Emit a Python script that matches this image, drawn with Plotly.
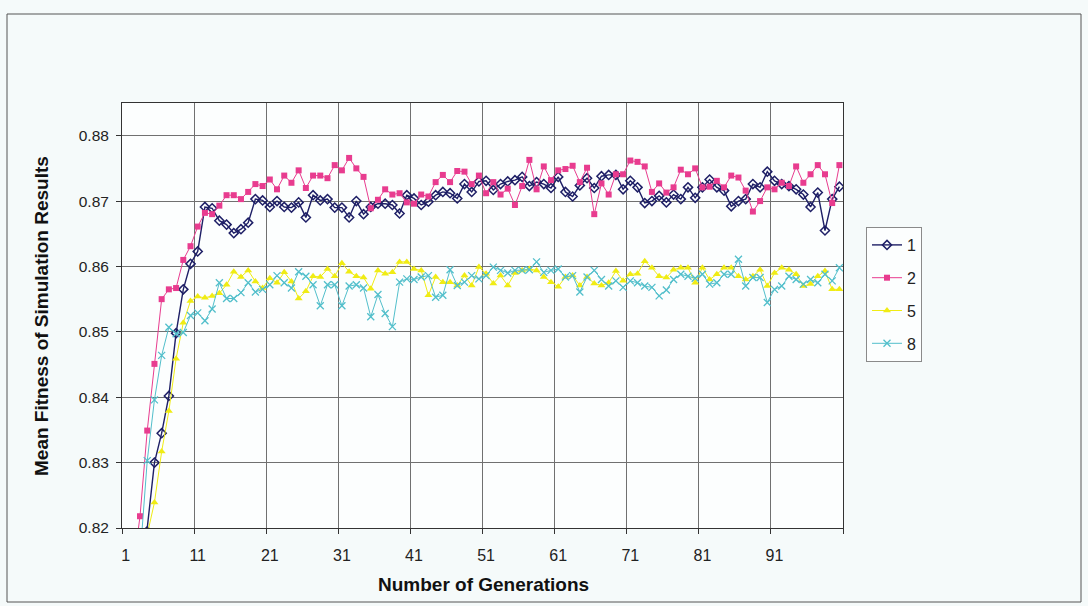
import plotly.graph_objects as go

# Generation index 1..100
generations = list(range(1, 101))

# Mean fitness per generation for each run
series_1 = [
    0.7900, 0.8000, 0.8100, 0.8195, 0.8300, 0.8345, 0.8402, 0.8498, 0.8565, 0.8604,
    0.8623, 0.8691, 0.8689, 0.8670, 0.8664, 0.8651, 0.8657, 0.8667, 0.8703, 0.8701,
    0.8691, 0.8700, 0.8691, 0.8690, 0.8698, 0.8675, 0.8709, 0.8701, 0.8703, 0.8690,
    0.8690, 0.8675, 0.8700, 0.8680, 0.8691, 0.8696, 0.8696, 0.8694, 0.8681, 0.8709,
    0.8704, 0.8694, 0.8699, 0.8709, 0.8714, 0.8712, 0.8704, 0.8726, 0.8714, 0.8730,
    0.8731, 0.8717, 0.8726, 0.8730, 0.8732, 0.8737, 0.8723, 0.8729, 0.8726, 0.8720,
    0.8737, 0.8714, 0.8707, 0.8724, 0.8735, 0.8720, 0.8738, 0.8740, 0.8740, 0.8718,
    0.8731, 0.8721, 0.8697, 0.8700, 0.8708, 0.8698, 0.8710, 0.8703, 0.8721, 0.8705,
    0.8721, 0.8733, 0.8721, 0.8716, 0.8692, 0.8700, 0.8703, 0.8726, 0.8721, 0.8745,
    0.8731, 0.8726, 0.8723, 0.8718, 0.8710, 0.8691, 0.8713, 0.8655, 0.8703, 0.8722,
]
series_2 = [
    0.8050, 0.8135, 0.8218, 0.8349, 0.8451, 0.8550, 0.8565, 0.8567, 0.8610, 0.8631,
    0.8661, 0.8682, 0.8680, 0.8693, 0.8709, 0.8709, 0.8703, 0.8714, 0.8726, 0.8723,
    0.8733, 0.8718, 0.8739, 0.8728, 0.8747, 0.8720, 0.8739, 0.8739, 0.8735, 0.8755,
    0.8747, 0.8766, 0.8750, 0.8737, 0.8689, 0.8702, 0.8718, 0.8710, 0.8712, 0.8698,
    0.8696, 0.8710, 0.8707, 0.8729, 0.8740, 0.8729, 0.8746, 0.8745, 0.8726, 0.8739,
    0.8712, 0.8729, 0.8710, 0.8719, 0.8694, 0.8723, 0.8763, 0.8718, 0.8753, 0.8732,
    0.8747, 0.8749, 0.8754, 0.8729, 0.8751, 0.8680, 0.8727, 0.8710, 0.8741, 0.8741,
    0.8762, 0.8760, 0.8753, 0.8714, 0.8727, 0.8713, 0.8721, 0.8748, 0.8741, 0.8750,
    0.8721, 0.8722, 0.8731, 0.8721, 0.8739, 0.8736, 0.8716, 0.8684, 0.8700, 0.8721,
    0.8718, 0.8728, 0.8723, 0.8753, 0.8728, 0.8741, 0.8755, 0.8741, 0.8697, 0.8755,
]
series_5 = [
    0.8000, 0.8050, 0.8120, 0.8190, 0.8239, 0.8317, 0.8379, 0.8459, 0.8514, 0.8547,
    0.8554, 0.8552, 0.8555, 0.8559, 0.8572, 0.8592, 0.8584, 0.8594, 0.8577, 0.8567,
    0.8582, 0.8575, 0.8591, 0.8577, 0.8551, 0.8562, 0.8585, 0.8584, 0.8596, 0.8585,
    0.8605, 0.8592, 0.8585, 0.8583, 0.8566, 0.8594, 0.8589, 0.8591, 0.8607, 0.8607,
    0.8596, 0.8594, 0.8556, 0.8584, 0.8576, 0.8576, 0.8571, 0.8586, 0.8571, 0.8599,
    0.8589, 0.8574, 0.8586, 0.8571, 0.8590, 0.8594, 0.8596, 0.8594, 0.8584, 0.8576,
    0.8569, 0.8584, 0.8586, 0.8571, 0.8584, 0.8574, 0.8571, 0.8575, 0.8593, 0.8578,
    0.8588, 0.8589, 0.8608, 0.8598, 0.8585, 0.8583, 0.8595, 0.8598, 0.8598, 0.8575,
    0.8598, 0.8580, 0.8588, 0.8598, 0.8598, 0.8585, 0.8580, 0.8585, 0.8595, 0.8570,
    0.8590, 0.8598, 0.8595, 0.8588, 0.8570, 0.8573, 0.8585, 0.8593, 0.8565, 0.8565,
]
series_8 = [
    0.8000, 0.8080, 0.8155, 0.8303, 0.8396, 0.8464, 0.8507, 0.8497, 0.8499, 0.8525,
    0.8529, 0.8517, 0.8535, 0.8575, 0.8551, 0.8551, 0.8560, 0.8575, 0.8561, 0.8565,
    0.8572, 0.8586, 0.8575, 0.8567, 0.8592, 0.8585, 0.8572, 0.8540, 0.8572, 0.8572,
    0.8540, 0.8570, 0.8572, 0.8567, 0.8523, 0.8557, 0.8528, 0.8508, 0.8576, 0.8581,
    0.8580, 0.8584, 0.8586, 0.8553, 0.8556, 0.8595, 0.8571, 0.8576, 0.8586, 0.8581,
    0.8586, 0.8599, 0.8594, 0.8590, 0.8594, 0.8594, 0.8595, 0.8607, 0.8591, 0.8594,
    0.8596, 0.8584, 0.8586, 0.8561, 0.8584, 0.8594, 0.8580, 0.8570, 0.8578, 0.8568,
    0.8578, 0.8575, 0.8570, 0.8568, 0.8555, 0.8564, 0.8580, 0.8588, 0.8585, 0.8582,
    0.8588, 0.8573, 0.8575, 0.8588, 0.8588, 0.8611, 0.8570, 0.8583, 0.8583, 0.8545,
    0.8565, 0.8570, 0.8585, 0.8580, 0.8573, 0.8580, 0.8575, 0.8588, 0.8578, 0.8598,
]

series_names = ["1", "2", "5", "8"]
x_tick_labels = [1, 11, 21, 31, 41, 51, 61, 71, 81, 91]
y_tick_values = [0.82, 0.83, 0.84, 0.85, 0.86, 0.87, 0.88]

FONT = "Liberation Sans, Arial, sans-serif"

styles = [
    dict(color="#1e1f66", symbol="diamond-open", size=7, lw=1.4, mlw=1.5),
    dict(color="#e83c8f", symbol="square", size=6, lw=1.0, mlw=0),
    dict(color="#f0ec14", symbol="triangle-up", size=7, lw=1.0, mlw=0),
    dict(color="#52bfcb", symbol="x-thin-open", size=7, lw=1.0, mlw=1.3),
]

fig = go.Figure()
for name, ys, st in zip(series_names, [series_1, series_2, series_5, series_8], styles):
    fig.add_trace(go.Scatter(
        x=generations, y=ys, name=name, legendgroup=name,
        mode="lines+markers",
        line=dict(color=st["color"], width=st["lw"]),
        marker=dict(symbol=st["symbol"], size=st["size"], color=st["color"],
                    line=dict(color=st["color"], width=st["mlw"])),
    ))

# plot area in pixels: left 122, right 843, top 103, bottom 528
L, R, T, B = 122, 843, 103, 528
W, H = 1088, 606
def px(xp):
    return (xp - L) / (R - L)
def py(yp):
    return (B - yp) / (B - T)

fig.update_layout(
    width=W, height=H,
    margin=dict(l=L, r=W - R, t=T, b=H - B, autoexpand=False),
    paper_bgcolor="#f5fafa",
    plot_bgcolor="#fcfefe",
    font=dict(family=FONT, size=15, color="#222222"),
    showlegend=True,
    legend=dict(
        x=px(866), y=py(227), xanchor="left", yanchor="top",
        bgcolor="#fcfefe", bordercolor="#8a8a8a", borderwidth=1,
        font=dict(family=FONT, size=16, color="#222222"),
        tracegroupgap=9, traceorder="grouped", itemwidth=30,
    ),
    xaxis=dict(
        range=[0.5, 100.5],
        tickmode="array", tickvals=x_tick_labels,
        ticktext=[str(v) for v in x_tick_labels],
        ticks="", showgrid=False, zeroline=False,
        showline=True, linecolor="#333333", linewidth=1, mirror=True,
        ticklabelstandoff=13,
        tickfont=dict(family=FONT, size=16, color="#222222"),
        minor=dict(tick0=0.5, dtick=10, showgrid=True, gridcolor="#707070",
                   gridwidth=1, ticks="outside", ticklen=5, tickcolor="#333333"),
    ),
    yaxis=dict(
        range=[0.82, 0.885],
        tickmode="array", tickvals=y_tick_values,
        ticktext=[f"{v:.2f}" for v in y_tick_values],
        ticks="outside", ticklen=5, tickcolor="#333333",
        showgrid=True, gridcolor="#707070", gridwidth=1, zeroline=False,
        showline=True, linecolor="#333333", linewidth=1, mirror=True,
        tickfont=dict(family=FONT, size=15.5, color="#222222"),
        ticklabelstandoff=4,
    ),
    annotations=[
        dict(text="<b>Mean Fitness of Simulation Results</b>", textangle=-90,
             x=px(41), y=py(316), xref="paper", yref="paper",
             xanchor="center", yanchor="middle", showarrow=False,
             font=dict(family=FONT, size=19, color="#111111")),
        dict(text="<b>Number of Generations</b>",
             x=px(483), y=py(584), xref="paper", yref="paper",
             xanchor="center", yanchor="middle", showarrow=False,
             font=dict(family=FONT, size=19, color="#111111")),
    ],
    shapes=[
        dict(type="rect", xref="paper", yref="paper",
             x0=px(7), x1=px(1081), y0=py(602), y1=py(14),
             line=dict(color="#555555", width=1), layer="below"),
    ],
)

fig.write_html("out.html")
